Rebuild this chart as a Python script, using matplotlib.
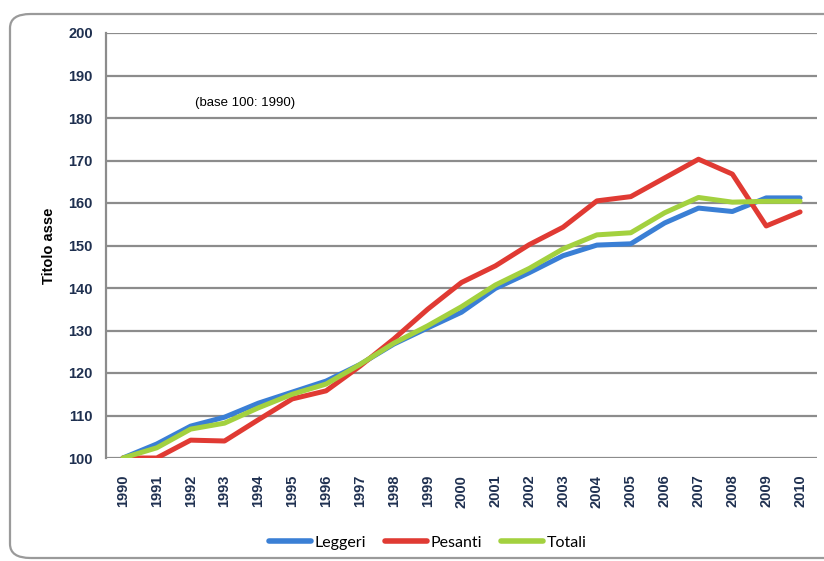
import matplotlib
matplotlib.use("Agg")
import matplotlib.pyplot as plt
from matplotlib.patches import FancyBboxPatch
from matplotlib.lines import Line2D

years = list(range(1990, 2011))
leggeri = [100, 103.3, 107.5, 109.6, 112.9, 115.5, 118.1, 122.0, 126.8, 130.6, 134.3,
           139.9, 143.6, 147.6, 150.1, 150.4, 155.3, 158.8, 158.0, 161.2, 161.2]
pesanti = [100, 100.0, 104.2, 104.0, 109.0, 113.9, 115.8, 121.6, 128.0, 135.0, 141.3,
           145.2, 150.2, 154.3, 160.5, 161.5, 165.9, 170.3, 166.8, 154.6, 157.9]
totali = [100, 102.4, 106.8, 108.2, 111.8, 115.0, 117.4, 122.0, 127.0, 131.1, 135.6,
          140.7, 144.6, 149.2, 152.5, 153.0, 157.7, 161.3, 160.2, 160.4, 160.4]

series = [("Leggeri", leggeri, "#3a7fd5"),
          ("Pesanti", pesanti, "#e03a33"),
          ("Totali", totali, "#a3d13f")]

y_ticks = list(range(100, 201, 10))

W, H = 824, 561
fig = plt.figure(figsize=(W / 100, H / 100), dpi=100)
fig.patch.set_facecolor("white")

# rounded frame around the chart
frame = FancyBboxPatch((10 / W, 3 / H), 840 / W, 544 / H,
                       boxstyle="round,pad=0,rounding_size=0.025",
                       transform=fig.transFigure, facecolor="none",
                       edgecolor="#9a9a9a", linewidth=1.6, clip_on=False)
fig.patches.append(frame)

ax = fig.add_axes([106 / W, 1 - 458 / H, 711 / W, 425 / H])
ax.set_facecolor("none")

tick_color = "#1f3050"
tick_font = dict(family="Liberation Sans", weight="bold", size=10.5)

for name, vals, col in series:
    ax.plot(years, vals, color=col, linewidth=3.6, solid_capstyle="round",
            solid_joinstyle="round", label=name, zorder=3)

ax.set_xlim(1989.5, 2010.5)
ax.set_ylim(100, 200)
ax.set_yticks(y_ticks)
ax.set_xticks(years)
ax.set_yticklabels([str(v) for v in y_ticks], color=tick_color, **tick_font)
ax.set_xticklabels([str(y) for y in years], rotation=90, color=tick_color, **tick_font)
ax.tick_params(axis="both", length=0)
ax.tick_params(axis="y", pad=9.5)
ax.tick_params(axis="x", pad=12)

ax.grid(axis="y", color="#8c8c8c", linewidth=1.6, zorder=1)
ax.set_axisbelow(True)
for side in ("top", "right", "bottom"):
    ax.spines[side].set_visible(False)
ax.spines["left"].set_color("#8c8c8c")
ax.spines["left"].set_linewidth(1.6)

ax.set_ylabel("Titolo asse", family="Liberation Sans", weight="bold",
              size=10.5, color="black", labelpad=9)

ax.text(1993.6, 183.5, "(base 100: 1990)", family="Liberation Sans",
        size=9.5, color="black", ha="center", va="center")

handles = [Line2D([0], [0], color=c, linewidth=4, solid_capstyle="round")
           for _, _, c in series]
fig.legend(handles, [n for n, _, _ in series], loc="center",
           bbox_to_anchor=(428 / W, 1 - 543 / H), ncol=3, frameon=False,
           prop=dict(family="Lato", size=11.5), handlelength=2.6,
           handletextpad=0.25, columnspacing=1.2)

fig.savefig("out.png", dpi=100, facecolor="white")
